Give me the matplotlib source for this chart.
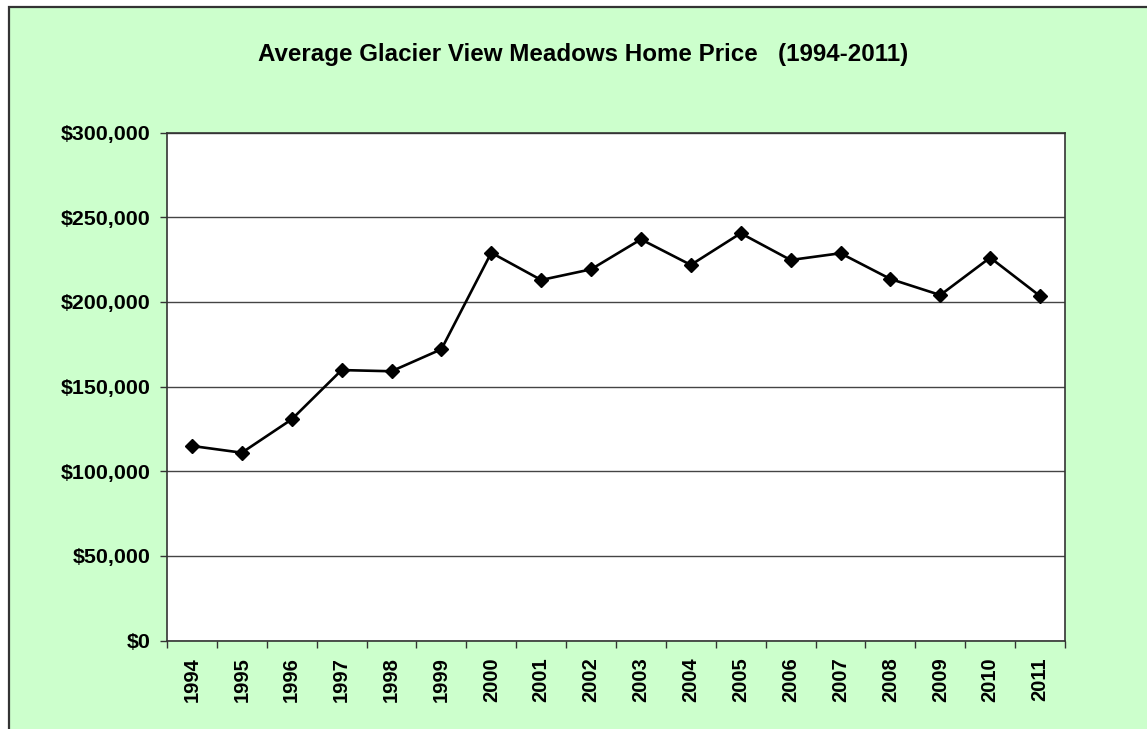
import matplotlib
matplotlib.use("Agg")
import matplotlib.pyplot as plt
from matplotlib.patches import Rectangle
import numpy as np

years = ["1994", "1995", "1996", "1997", "1998", "1999", "2000", "2001", "2002",
         "2003", "2004", "2005", "2006", "2007", "2008", "2009", "2010", "2011"]
prices = [114900, 110900, 130600, 159700, 159000, 172000, 229000, 212900, 219200,
          236900, 221800, 240500, 224700, 228700, 213500, 204000, 226100, 203400]
y_ticks = [0, 50000, 100000, 150000, 200000, 250000, 300000]
y_labels = ["$0", "$50,000", "$100,000", "$150,000", "$200,000", "$250,000", "$300,000"]
title = "Average Glacier View Meadows Home Price   (1994-2011)"

plt.rcParams['font.family'] = ['Liberation Sans', 'DejaVu Sans']

W, H = 1147, 729
fig = plt.figure(figsize=(W / 100, H / 100), dpi=100)
fig.patch.set_facecolor("white")

# green chart area with border (extends past right/bottom edges)
bg = Rectangle((8.5 / W, -0.05), 1.1, 1 - 6.5 / H + 0.05, transform=fig.transFigure,
               facecolor="#CCFFCC", edgecolor="#333333", linewidth=1.6, zorder=-10)
fig.patches.append(bg)

ax = fig.add_axes([167 / W, (H - 640.5) / H, 898 / W, 508 / H])
ax.set_zorder(5)
ax.set_facecolor("white")

x = np.arange(len(years))
ax.plot(x, prices, color="black", linewidth=1.9, marker="D", markersize=7.3,
        markerfacecolor="black", markeredgecolor="black", zorder=3, clip_on=False)

ax.set_xlim(-0.5, len(years) - 0.5)
ax.set_ylim(0, 300000)

ax.set_yticks(y_ticks)
ax.set_yticklabels(y_labels, fontsize=15.4, fontweight="bold")
ax.tick_params(axis="y", length=5, width=1, color="#333333", pad=7)

ax.set_xticks(np.arange(len(years) + 1) - 0.5)
ax.set_xticklabels([])
ax.tick_params(axis="x", which="major", length=5, width=1, color="#333333")
ax.set_xticks(x, minor=True)
ax.set_xticklabels(years, minor=True, rotation=90, fontsize=14.5, fontweight="bold")
ax.tick_params(axis="x", which="minor", length=0, pad=12)

ax.yaxis.grid(True, color="#444444", linewidth=1)
ax.set_axisbelow(True)
for s in ax.spines.values():
    s.set_color("#333333")
    s.set_linewidth(1.2)

fig.text(583 / W, 1 - 54 / H, title, ha="center", va="center",
         fontsize=17.4, fontweight="bold", zorder=6)

fig.savefig("out.png", dpi=100)
